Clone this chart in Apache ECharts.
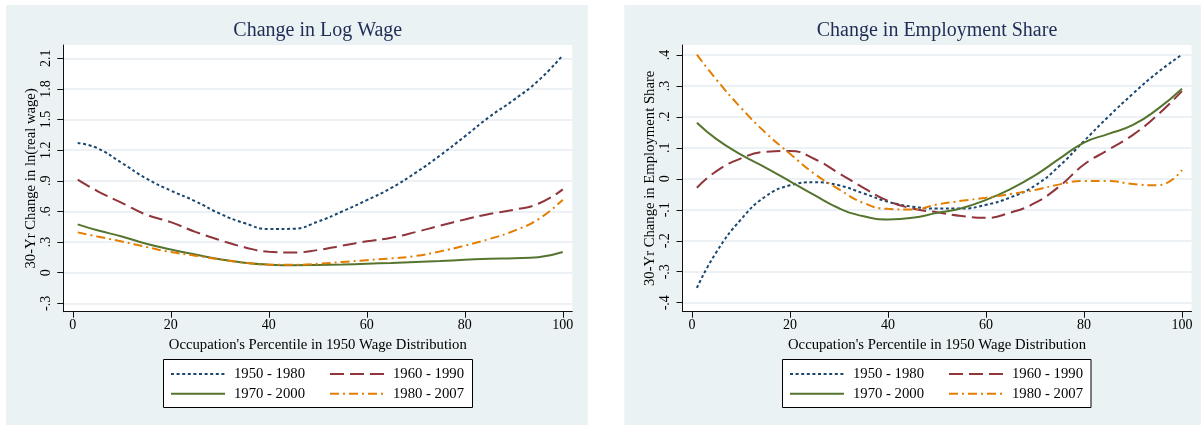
<!DOCTYPE html>
<html><head><meta charset="utf-8">
<script src="https://cdn.jsdelivr.net/npm/echarts@6/dist/echarts.min.js"></script>
<style>html,body{margin:0;padding:0;background:#fff}#c{width:1201px;height:425px}</style>
</head><body><div id="c"></div>
<script>
// ---- data ----
const percentile = [1,5,10,15,20,25,30,35,40,45,50,55,60,65,70,75,80,85,90,95,100];
const seriesNames = ['1950 - 1980','1960 - 1990','1970 - 2000','1980 - 2007'];
const wage1950_1980 = [1.27,1.22,1.075,0.922,0.804,0.70,0.579,0.486,0.428,0.43,0.50,0.60,0.71,0.83,0.98,1.15,1.335,1.525,1.693,1.88,2.13];
const wage1960_1990 = [0.911,0.80,0.684,0.568,0.495,0.40,0.32,0.25,0.205,0.198,0.222,0.265,0.307,0.343,0.398,0.461,0.521,0.575,0.616,0.675,0.816];
const wage1970_2000 = [0.473,0.415,0.355,0.284,0.228,0.178,0.132,0.098,0.079,0.073,0.075,0.08,0.088,0.095,0.105,0.115,0.126,0.137,0.142,0.152,0.202];
const wage1980_2007 = [0.395,0.355,0.305,0.252,0.202,0.167,0.13,0.098,0.079,0.078,0.087,0.105,0.123,0.14,0.164,0.209,0.265,0.33,0.41,0.523,0.715];
const share1950_1980 = [-0.352,-0.236,-0.131,-0.057,-0.021,-0.011,-0.021,-0.047,-0.074,-0.09,-0.096,-0.096,-0.084,-0.06,-0.022,0.042,0.122,0.201,0.275,0.343,0.401];
const share1960_1990 = [-0.029,0.025,0.066,0.087,0.090,0.064,0.018,-0.029,-0.071,-0.096,-0.108,-0.120,-0.126,-0.109,-0.078,-0.024,0.046,0.094,0.142,0.206,0.283];
const share1970_2000 = [0.181,0.128,0.078,0.036,-0.008,-0.053,-0.095,-0.121,-0.131,-0.126,-0.11,-0.095,-0.068,-0.033,0.011,0.065,0.117,0.145,0.174,0.225,0.291];
const share1980_2007 = [0.401,0.32,0.229,0.149,0.081,0.016,-0.034,-0.078,-0.097,-0.099,-0.083,-0.071,-0.061,-0.049,-0.036,-0.018,-0.007,-0.007,-0.017,-0.021,0.028];
const xTicks = [0,20,40,60,80,100];
const wageTicks = [-0.3,0,0.3,0.6,0.9,1.2,1.5,1.8,2.1];
const shareTicks = [-0.4,-0.3,-0.2,-0.1,0,0.1,0.2,0.3,0.4];

// ---- styles ----
const FONT = '"Liberation Serif", "Times New Roman", serif';
const colors = ['#1a476f','#90353b','#55752f','#e37e00'];
const dashes = [[3,2.6],[14,6],'solid',[9,4,2,4]];
const pairs = ys => percentile.map((x,i)=>[x, ys[i]]);
const stataFmt = v => { let s = (Math.round(v*10)/10).toString(); return s.replace(/^0\./,'.').replace(/^-0\./,'-.'); };

const panels = [
  {data:[wage1950_1980,wage1960_1990,wage1970_2000,wage1980_2007], ticks:wageTicks, min:-0.382, max:2.230,
   left:63.3, title:'Change in Log Wage', yname:'30-Yr Change in ln(real wage)', legendLeft:170, box:[163.5,359.5,309,48]},
  {data:[share1950_1980,share1960_1990,share1970_2000,share1980_2007], ticks:shareTicks, min:-0.429, max:0.432,
   left:682.5, title:'Change in Employment Share', yname:'30-Yr Change in Employment Share', legendLeft:789, box:[782.5,359.5,308.5,48]}
];
const GW = 509, GT = 45, GH = 266.7;

const grid=[], xAxis=[], yAxis=[], series=[], legend=[], graphic=[];
graphic.push({type:'rect', z:-10, shape:{x:6,y:5,width:581.7,height:420}, style:{fill:'#eaf2f3'}});
graphic.push({type:'rect', z:-10, shape:{x:624.3,y:5,width:576.7,height:420}, style:{fill:'#eaf2f3'}});
panels.forEach((p,k)=>{
  grid.push({left:p.left, top:GT, width:GW, height:GH, show:true, backgroundColor:'#ffffff', borderWidth:0});
  xAxis.push({type:'value', gridIndex:k, min:-1.94, max:101.94,
    axisLine:{show:true, onZero:false, lineStyle:{color:'#111', width:1}},
    axisTick:{show:true, length:6, customValues:xTicks, lineStyle:{color:'#111'}},
    axisLabel:{customValues:xTicks, fontFamily:FONT, fontSize:14, color:'#000', margin:7},
    splitLine:{show:false},
    name:"Occupation's Percentile in 1950 Wage Distribution", nameLocation:'middle', nameGap:22,
    nameTextStyle:{fontFamily:FONT, fontSize:14.7, color:'#000'}});
  yAxis.push({type:'value', gridIndex:k, min:p.min, max:p.max,
    axisLine:{show:true, onZero:false, lineStyle:{color:'#111', width:1}},
    axisTick:{show:true, length:6, customValues:p.ticks, lineStyle:{color:'#111'}},
    axisLabel:{customValues:p.ticks, rotate:90, fontFamily:FONT, fontSize:14, color:'#000', margin:10, formatter:stataFmt},
    splitLine:{show:true, lineStyle:{color:'#e4edf0', width:1.5}},
    name:p.yname, nameLocation:'middle', nameGap:25,
    nameTextStyle:{fontFamily:FONT, fontSize:14.7, color:'#000'}});
  p.data.forEach((ys,i)=>{
    series.push({type:'line', name:seriesNames[i], xAxisIndex:k, yAxisIndex:k, data:pairs(ys),
      smooth:true, symbol:'none', showSymbol:false, animation:false,
      lineStyle:{color:colors[i], width:2, type:dashes[i]}, itemStyle:{color:colors[i]}});
  });
  const cx = p.left + GW/2;
  graphic.push({type:'text', x:cx, y:31, z:5, style:{text:p.title, font:'20px '+FONT, fill:'#1f2c55', textAlign:'center', textVerticalAlign:'middle'}});
  graphic.push({type:'rect', z:1, shape:{x:p.box[0],y:p.box[1],width:p.box[2],height:p.box[3]}, style:{fill:'#fff', stroke:'#000', lineWidth:1}});
  [[0,1],[2,3]].forEach((row,r)=>{
    legend.push({data:row.map(i=>seriesNames[i]), left:p.legendLeft, top: r===0?366:385.7, padding:0, itemGap:24,
      itemWidth:54, itemHeight:12, selectedMode:false, z:6,
      itemStyle:{opacity:0, borderWidth:0},
      textStyle:{fontFamily:FONT, fontSize:14.7, color:'#000', padding:[0,0,0,4], lineHeight:16}});
  });
});

const chart = echarts.init(document.getElementById('c'), null, {renderer:'canvas'});
chart.setOption({animation:false, backgroundColor:'#ffffff', grid, xAxis, yAxis, series, legend, graphic});
</script>
</body></html>
